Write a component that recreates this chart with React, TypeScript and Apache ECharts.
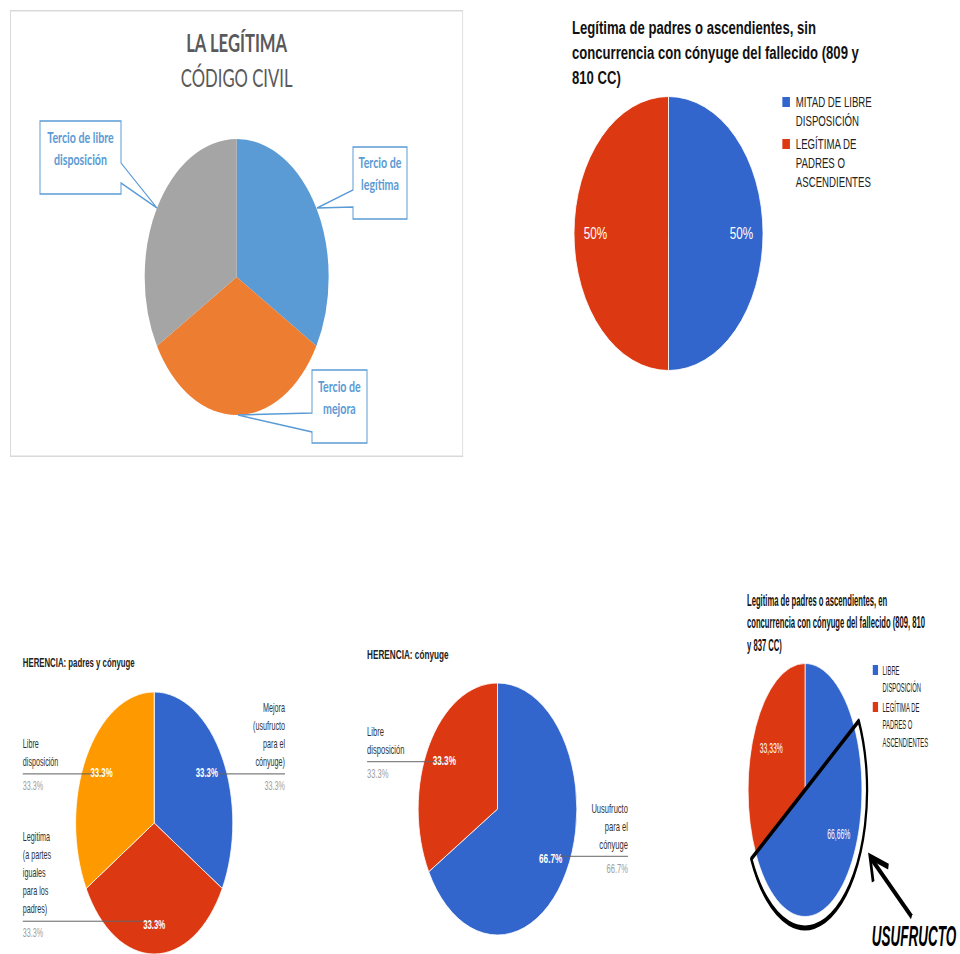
import { useEffect, useRef } from 'react';
import * as echarts from 'echarts';

const ARIAL = '"Liberation Sans", Arial, Helvetica, sans-serif';
const LATO = 'Lato, "Open Sans", sans-serif';

// La legítima según el Código Civil
const codigoTitulo = 'LA LEGÍTIMA';
const codigoSubtitulo = 'CÓDIGO CIVIL';
const codigoCategorias = ['Tercio de legítima', 'Tercio de mejora', 'Tercio de libre disposición'];
const codigoValores = [33.33, 33.33, 33.33];

// Padres o ascendientes sin cónyuge
const sinConyugeTitulo =
  'Legítima de padres o ascendientes, sin concurrencia con cónyuge del fallecido (809 y 810 CC)';
const sinConyugeCategorias = ['MITAD DE LIBRE DISPOSICIÓN', 'LEGÍTIMA DE PADRES O ASCENDIENTES'];
const sinConyugeValores = [50, 50];

// Herencia: padres y cónyuge
const padresConyugeTitulo = 'HERENCIA: padres y cónyuge';
const padresConyugeCategorias = [
  'Mejora (usufructo para el cónyuge)',
  'Legitima (a partes iguales para los padres)',
  'Libre disposición',
];
const padresConyugeValores = [33.3, 33.3, 33.3];

// Herencia: cónyuge
const conyugeTitulo = 'HERENCIA: cónyuge';
const conyugeCategorias = ['Uusufructo para el cónyuge', 'Libre disposición'];
const conyugeValores = [66.7, 33.3];

// Padres o ascendientes en concurrencia con el cónyuge
const concurrenciaTitulo =
  'Legitima de padres o ascendientes, en concurrencia con cónyuge del fallecido (809, 810 y 837 CC)';
const concurrenciaCategorias = ['LIBRE DISPOSICIÓN', 'LEGÍTIMA DE PADRES O ASCENDIENTES'];
const concurrenciaValores = [66.66, 33.33];
const usufructoCuota = 50;
const usufructoRotulo = 'USUFRUCTO';

const OFFICE_COLORS = ['#5B9BD5', '#ED7D31', '#A5A5A5'];
const G_BLUE = '#3366CC';
const G_RED = '#DC3912';
const G_ORANGE = '#FF9900';

// Word wrap by character count
function wrap(text: string, max: number): string[] {
  const lines: string[] = [];
  let cur = '';
  for (const w of text.split(' ')) {
    if (!cur) cur = w;
    else if ((cur + ' ' + w).length <= max) cur += ' ' + w;
    else {
      lines.push(cur);
      cur = w;
    }
  }
  if (cur) lines.push(cur);
  return lines;
}

// Callout frames (box + pointer wedge) for the Office-style pie, one per category
const calloutFrames = [
  {
    points: [[514.5, 137], [595.5, 137], [595.5, 209], [514.5, 209], [514.5, 197], [460.5, 198], [514.5, 180]],
    tx: 555,
    ty: 163.5,
  },
  {
    points: [[453, 360], [535.5, 360], [535.5, 433], [453, 433], [453, 422], [342, 405], [453, 403]],
    tx: 494,
    ty: 387.5,
  },
  {
    points: [[45, 111], [166.5, 111], [166.5, 153], [220.5, 198], [166.5, 173], [166.5, 184], [45, 184]],
    tx: 105.75,
    ty: 138,
  },
];

function officeOption(): any {
  return {
    animation: false,
    color: OFFICE_COLORS,
    title: {
      text: codigoTitulo,
      subtext: codigoSubtitulo,
      left: 'center',
      top: 20.5,
      padding: 0,
      itemGap: 10,
      textStyle: { fontFamily: LATO, fontSize: 25, fontWeight: 'bold', color: '#595959' },
      subtextStyle: { fontFamily: LATO, fontSize: 25, fontWeight: 'normal', color: '#595959' },
    },
    series: [
      {
        type: 'pie',
        center: [340, 267],
        radius: 138,
        startAngle: 90,
        silent: true,
        label: { show: false },
        labelLine: { show: false },
        data: codigoCategorias.map((name, i) => ({ name, value: codigoValores[i] })),
      },
    ],
    graphic: [
      {
        type: 'rect',
        silent: true,
        shape: { x: 0.75, y: 0.75, width: 678.5, height: 445.5 },
        style: { fill: 'none', stroke: '#D9D9D9', lineWidth: 1.5 },
      },
      ...calloutFrames.flatMap((f, i) => [
        {
          type: 'polygon',
          z: 10,
          shape: { points: f.points },
          style: { fill: '#fff', stroke: '#5B9BD5', lineWidth: 1.5 },
        },
        {
          type: 'text',
          z: 11,
          x: f.tx,
          y: f.ty,
          style: {
            text: wrap(codigoCategorias[i], 15).join('\n'),
            fill: '#5B9BD5',
            fontFamily: LATO,
            fontSize: 16,
            fontWeight: 'bold',
            lineHeight: 22,
            align: 'center',
            verticalAlign: 'middle',
          },
        },
      ]),
    ],
  };
}

// Pie with a side legend and values printed inside the slices
function legendPieOption(cfg: any): any {
  const data = cfg.names.map((name: string, i: number) => ({ name, value: cfg.values[i] }));
  const inner = cfg.r * (2 * cfg.labelRatio - 1);
  const lh = cfg.legendLineHeight;
  return {
    animation: false,
    color: cfg.colors,
    title: {
      text: wrap(cfg.title, cfg.titleChars).join('\n'),
      left: cfg.titleLeft,
      top: cfg.titleTop,
      padding: 0,
      textStyle: {
        fontFamily: ARIAL,
        fontSize: cfg.titleSize,
        fontWeight: 'bold',
        color: '#111',
        lineHeight: cfg.titleLineHeight,
      },
    },
    // One legend per entry: blank leading lines keep the swatch level with the first text line
    legend: cfg.names.map((name: string, i: number) => {
      const n = wrap(name, 14).length;
      return {
        data: [name],
        left: cfg.legendLeft,
        top: cfg.legendTops[i] + cfg.iconH / 2 - ((2 * n - 1) * lh) / 2,
        padding: 0,
        orient: 'vertical',
        icon: 'rect',
        itemWidth: cfg.iconW,
        itemHeight: cfg.iconH,
        selectedMode: false,
        formatter: (s: string) => {
          const lines = wrap(s, 14);
          return '\n'.repeat(lines.length - 1) + lines.join('\n');
        },
        textStyle: {
          fontFamily: ARIAL,
          fontSize: cfg.legendSize,
          color: '#222',
          lineHeight: lh,
          padding: [0, 0, 0, cfg.legendTextShift],
        },
      };
    }),
    series: [
      {
        type: 'pie',
        center: [cfg.cx, cfg.cy],
        radius: cfg.r,
        startAngle: 90,
        silent: true,
        data,
        itemStyle: { borderColor: '#fff', borderWidth: 1 },
        label: { show: false },
        labelLine: { show: false },
      },
      {
        type: 'pie',
        center: [cfg.cx, cfg.cy],
        radius: [inner, cfg.r],
        startAngle: 90,
        silent: true,
        data,
        itemStyle: { color: 'transparent', borderWidth: 0 },
        label: {
          show: true,
          position: 'inside',
          formatter: cfg.valueText,
          color: '#fff',
          fontFamily: ARIAL,
          fontSize: cfg.valueSize,
        },
        labelLine: { show: false },
      },
    ],
  };
}

// Pie with leader-line labels at both sides (name above the rule, share below)
function labeledPieOption(cfg: any): any {
  const { names, values, cx, cy, r, leftEdge, rightEdge } = cfg;
  const total = values.reduce((a: number, b: number) => a + b, 0);
  const k = 0.75;
  let acc = 0;
  const geo = values.map((v: number) => {
    const mid = ((acc + v / 2) / total) * Math.PI * 2;
    acc += v;
    const ax = cx + k * r * Math.sin(mid);
    const ay = cy - k * r * Math.cos(mid);
    const right = Math.sin(mid) > 0.01;
    const edge = right ? rightEdge : leftEdge;
    return { ay, right, edge, rule: Math.abs(edge - ax) };
  });
  const nameStyle = { fontFamily: ARIAL, fontSize: 12, lineHeight: 18, color: '#333' };
  const pctStyle = { fontFamily: ARIAL, fontSize: 12, lineHeight: 18, color: '#9E9E9E' };
  const rich: Record<string, any> = {
    nL: { ...nameStyle, align: 'left' },
    nR: { ...nameStyle, align: 'right' },
    pL: { ...pctStyle, align: 'left' },
    pR: { ...pctStyle, align: 'right' },
  };
  geo.forEach((g: any, i: number) => {
    rich['hr' + i] = {
      width: g.rule,
      height: 0,
      lineHeight: 6,
      borderColor: '#666',
      borderWidth: 0.8,
      align: g.right ? 'right' : 'left',
    };
  });
  const data = names.map((name: string, i: number) => ({ name, value: values[i] }));
  return {
    animation: false,
    color: cfg.colors,
    title: {
      text: cfg.title,
      left: cfg.titleLeft,
      top: cfg.titleTop,
      padding: 0,
      textStyle: { fontFamily: ARIAL, fontSize: 13, fontWeight: 'bold', color: '#222' },
    },
    series: [
      {
        type: 'pie',
        center: [cx, cy],
        radius: r,
        startAngle: 90,
        silent: true,
        avoidLabelOverlap: false,
        data,
        itemStyle: { borderColor: '#fff', borderWidth: 1 },
        label: {
          show: true,
          position: 'inside',
          padding: 0,
          rich,
          formatter: (p: any) => {
            const g = geo[p.dataIndex];
            const side = g.right ? 'R' : 'L';
            const lines = wrap(p.name, 10).map((l) => `{n${side}|${l}}`);
            return `${lines.join('\n')}\n{hr${p.dataIndex}|}\n{p${side}|${p.value}%}`;
          },
        },
        labelLine: { show: false },
        labelLayout: (p: any) => {
          const g = geo[p.dataIndex];
          const n = wrap(names[p.dataIndex], 10).length;
          return {
            x: g.edge,
            y: g.ay - n * 18 - 3,
            align: g.right ? 'right' : 'left',
            verticalAlign: 'top',
          };
        },
      },
      {
        type: 'pie',
        center: [cx, cy],
        radius: [r * (2 * k - 1), r],
        startAngle: 90,
        silent: true,
        data,
        itemStyle: { color: 'transparent', borderWidth: 0 },
        label: {
          show: true,
          position: 'inside',
          formatter: '{c}%',
          color: '#fff',
          fontFamily: ARIAL,
          fontSize: 13,
          fontWeight: 'bold',
        },
        labelLine: { show: false },
      },
    ],
  };
}

function concurrenciaOption(): any {
  const cx = 155.6;
  const cy = 210;
  const r = 126.5;
  const opt = legendPieOption({
    title: concurrenciaTitulo,
    titleChars: 48,
    titleLeft: 26.7,
    titleTop: 8.75,
    titleSize: 17,
    titleLineHeight: 22.5,
    names: concurrenciaCategorias,
    values: concurrenciaValores,
    colors: [G_BLUE, G_RED],
    cx,
    cy,
    r,
    labelRatio: 0.66,
    valueText: (p: any) => `${String(p.value).replace('.', ',')}%`,
    valueSize: 15,
    legendLeft: 304,
    legendTops: [84, 121],
    iconW: 14,
    iconH: 12,
    legendSize: 13,
    legendLineHeight: 17.5,
    legendTextShift: 4,
  });
  // Outline of the half of the estate subject to usufruct
  opt.series.push({
    type: 'pie',
    center: [cx, cy],
    radius: r * 1.09,
    startAngle: 90,
    silent: true,
    z: 5,
    label: { show: false },
    labelLine: { show: false },
    data: [
      { value: concurrenciaValores[0] - usufructoCuota, itemStyle: { color: 'transparent', borderWidth: 0 } },
      {
        value: usufructoCuota,
        itemStyle: { color: 'transparent', borderColor: '#000', borderWidth: 5, borderJoin: 'round' },
      },
      { value: concurrenciaValores[1], itemStyle: { color: 'transparent', borderWidth: 0 } },
    ],
  });
  opt.graphic = [
    {
      type: 'polyline',
      z: 20,
      shape: { points: [[307, 301.7], [300, 276.7], [341, 286.7]] },
      style: { stroke: '#000', lineWidth: 6, fill: 'none' },
    },
    {
      type: 'line',
      z: 20,
      shape: { x1: 301, y1: 277.5, x2: 392.6, y2: 336.7 },
      style: { stroke: '#000', lineWidth: 6 },
    },
    {
      type: 'text',
      z: 20,
      x: 397.8,
      y: 356,
      style: {
        text: usufructoRotulo,
        fill: '#000',
        fontFamily: ARIAL,
        fontSize: 30,
        fontWeight: 'bold',
        fontStyle: 'italic',
        align: 'center',
        verticalAlign: 'middle',
      },
    },
  ];
  return opt;
}

const panels = [
  { key: 'codigo', left: 10, top: 10, width: 680, height: 447, scale: 2 / 3, option: officeOption() },
  {
    key: 'sin-conyuge',
    left: 555,
    top: 0,
    width: 587,
    height: 400,
    scale: 0.69,
    option: legendPieOption({
      title: sinConyugeTitulo,
      titleChars: 45,
      titleLeft: 24.6,
      titleTop: 14.5,
      titleSize: 19,
      titleLineHeight: 25,
      names: sinConyugeCategorias,
      values: sinConyugeValores,
      colors: [G_BLUE, G_RED],
      cx: 164.5,
      cy: 233.5,
      r: 137,
      labelRatio: 0.75,
      valueText: '{c}%',
      valueSize: 17,
      legendLeft: 327.5,
      legendTops: [96, 138],
      iconW: 13,
      iconH: 12,
      legendSize: 14,
      legendLineHeight: 19,
      legendTextShift: 2.5,
    }),
  },
  {
    key: 'padres-conyuge',
    left: 0,
    top: 640,
    width: 500,
    height: 314,
    scale: 0.6,
    option: labeledPieOption({
      title: padresConyugeTitulo,
      titleLeft: 38,
      titleTop: 16,
      names: padresConyugeCategorias,
      values: padresConyugeValores,
      colors: [G_BLUE, G_RED, G_ORANGE],
      cx: 257,
      cy: 183,
      r: 131,
      leftEdge: 38,
      rightEdge: 475,
    }),
  },
  {
    key: 'conyuge',
    left: 340,
    top: 640,
    width: 480,
    height: 314,
    scale: 0.63,
    option: labeledPieOption({
      title: conyugeTitulo,
      titleLeft: 43,
      titleTop: 8,
      names: conyugeCategorias,
      values: conyugeValores,
      colors: [G_BLUE, G_RED],
      cx: 250,
      cy: 169,
      r: 126,
      leftEdge: 43,
      rightEdge: 457,
    }),
  },
  { key: 'concurrencia', left: 735, top: 580, width: 500, height: 374, scale: 0.45, option: concurrenciaOption() },
];

function Panel({ left, top, width, height, scale, option }: any) {
  const ref = useRef<HTMLDivElement>(null);
  useEffect(() => {
    if (!ref.current) return;
    const chart = echarts.init(ref.current, undefined, { renderer: 'svg' });
    chart.setOption(option);
    return () => chart.dispose();
  }, [option]);
  return (
    <div
      ref={ref}
      style={{
        position: 'absolute',
        left,
        top,
        width,
        height,
        transform: `scaleX(${scale})`,
        transformOrigin: '0 0',
      }}
    />
  );
}

export default function App() {
  return (
    <div
      style={{
        position: 'absolute',
        left: 0,
        top: 0,
        width: 960,
        height: 954,
        background: '#fff',
        overflow: 'hidden',
      }}
    >
      {panels.map((p) => (
        <Panel key={p.key} {...p} />
      ))}
    </div>
  );
}
